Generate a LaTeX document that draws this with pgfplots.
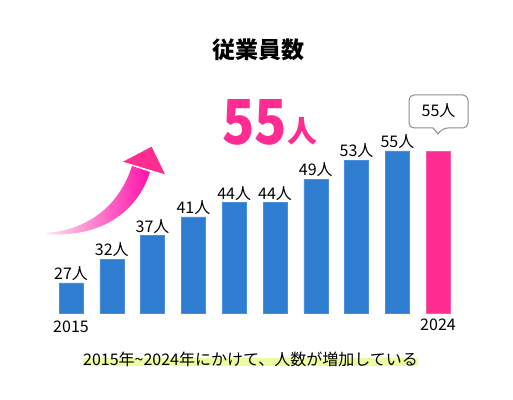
\documentclass[border=0pt]{standalone}
\usepackage{pgfplots}
\pgfplotsset{compat=1.18}
\usepackage{fontspec}
\setmainfont{Noto Sans CJK JP}
\definecolor{barblue}{HTML}{2E7DD1}
\definecolor{barblueedge}{HTML}{4A90DE}
\definecolor{hotpink}{HTML}{FF2D92}
\definecolor{arrowL}{HTML}{FDE3F0}
\definecolor{arrowD}{HTML}{FF10AA}
\definecolor{hilite}{HTML}{EEFCA0}
\begin{document}
\begin{tikzpicture}[x=1pt,y=1pt]
\useasboundingbox (0,0) rectangle (513,399);
% title
\node[font=\bfseries\fontsize{23}{23}\selectfont] at (258,349) {従業員数};
% arrow
\shade[left color=arrowL, right color=arrowD]
  (46,166) .. controls (85,169) and (118,190) .. (132,233)
  -- (150,227) .. controls (137,186) and (100,161) .. (46,165) -- cycle;
\fill[hotpink] (123,237.3) -- (151.7,252.3) -- (165,224.7) -- cycle;
% big number
\node[anchor=base west, inner sep=0, text=hotpink, font=\bfseries\fontsize{62}{62}\selectfont, xscale=0.86] at (222,254) {55};
\node[anchor=base west, inner sep=0, text=hotpink, font=\bfseries\fontsize{30}{30}\selectfont] at (287,256) {人};
% caption
\fill[hilite] (83,33) rectangle (418,41);
\node[font=\fontsize{16}{16}\selectfont] at (250.5,40) {2015年\textasciitilde 2024年にかけて、人数が増加している};
% bubble
\draw[gray!90, line width=1pt, fill=white, rounded corners=5pt]
  (433,271) -- (409,271) -- (409,304) -- (468,304) -- (468,271) -- (443,271) [sharp corners] -- (438,265) -- cycle;
\node[font=\fontsize{16}{16}\selectfont] at (438.5,288) {55人};
% year labels
\node[font=\fontsize{16}{16}\selectfont] at (71,72) {2015};
\node[font=\fontsize{16}{16}\selectfont] at (438,74) {2024};
\begin{axis}[
  at={(50.6pt,86pt)}, anchor=south west,
  scale only axis, width=408pt, height=232.7pt,
  xmin=-0.5, xmax=9.5, ymin=20.6, ymax=70,
  axis lines=none, ticks=none,
  ybar, bar width=24pt, bar shift=0pt,
  clip mode=individual,
  /pgf/number format/assume math mode=true,
]
\addplot[fill=barblue, draw=barblueedge, line width=0.6pt,
  nodes near coords={\pgfmathprintnumber{\pgfplotspointmeta}人},
  every node near coord/.append style={font=\fontsize{16}{16}\selectfont, text=black, inner sep=1pt, yshift=1pt}]
  coordinates {(0,27) (1,32) (2,37) (3,41) (4,44) (5,44) (6,49) (7,53) (8,55)};
\addplot[fill=hotpink, draw=hotpink!80!white, line width=0.6pt]
  coordinates {(9,55)};
\end{axis}
\end{tikzpicture}
\end{document}
